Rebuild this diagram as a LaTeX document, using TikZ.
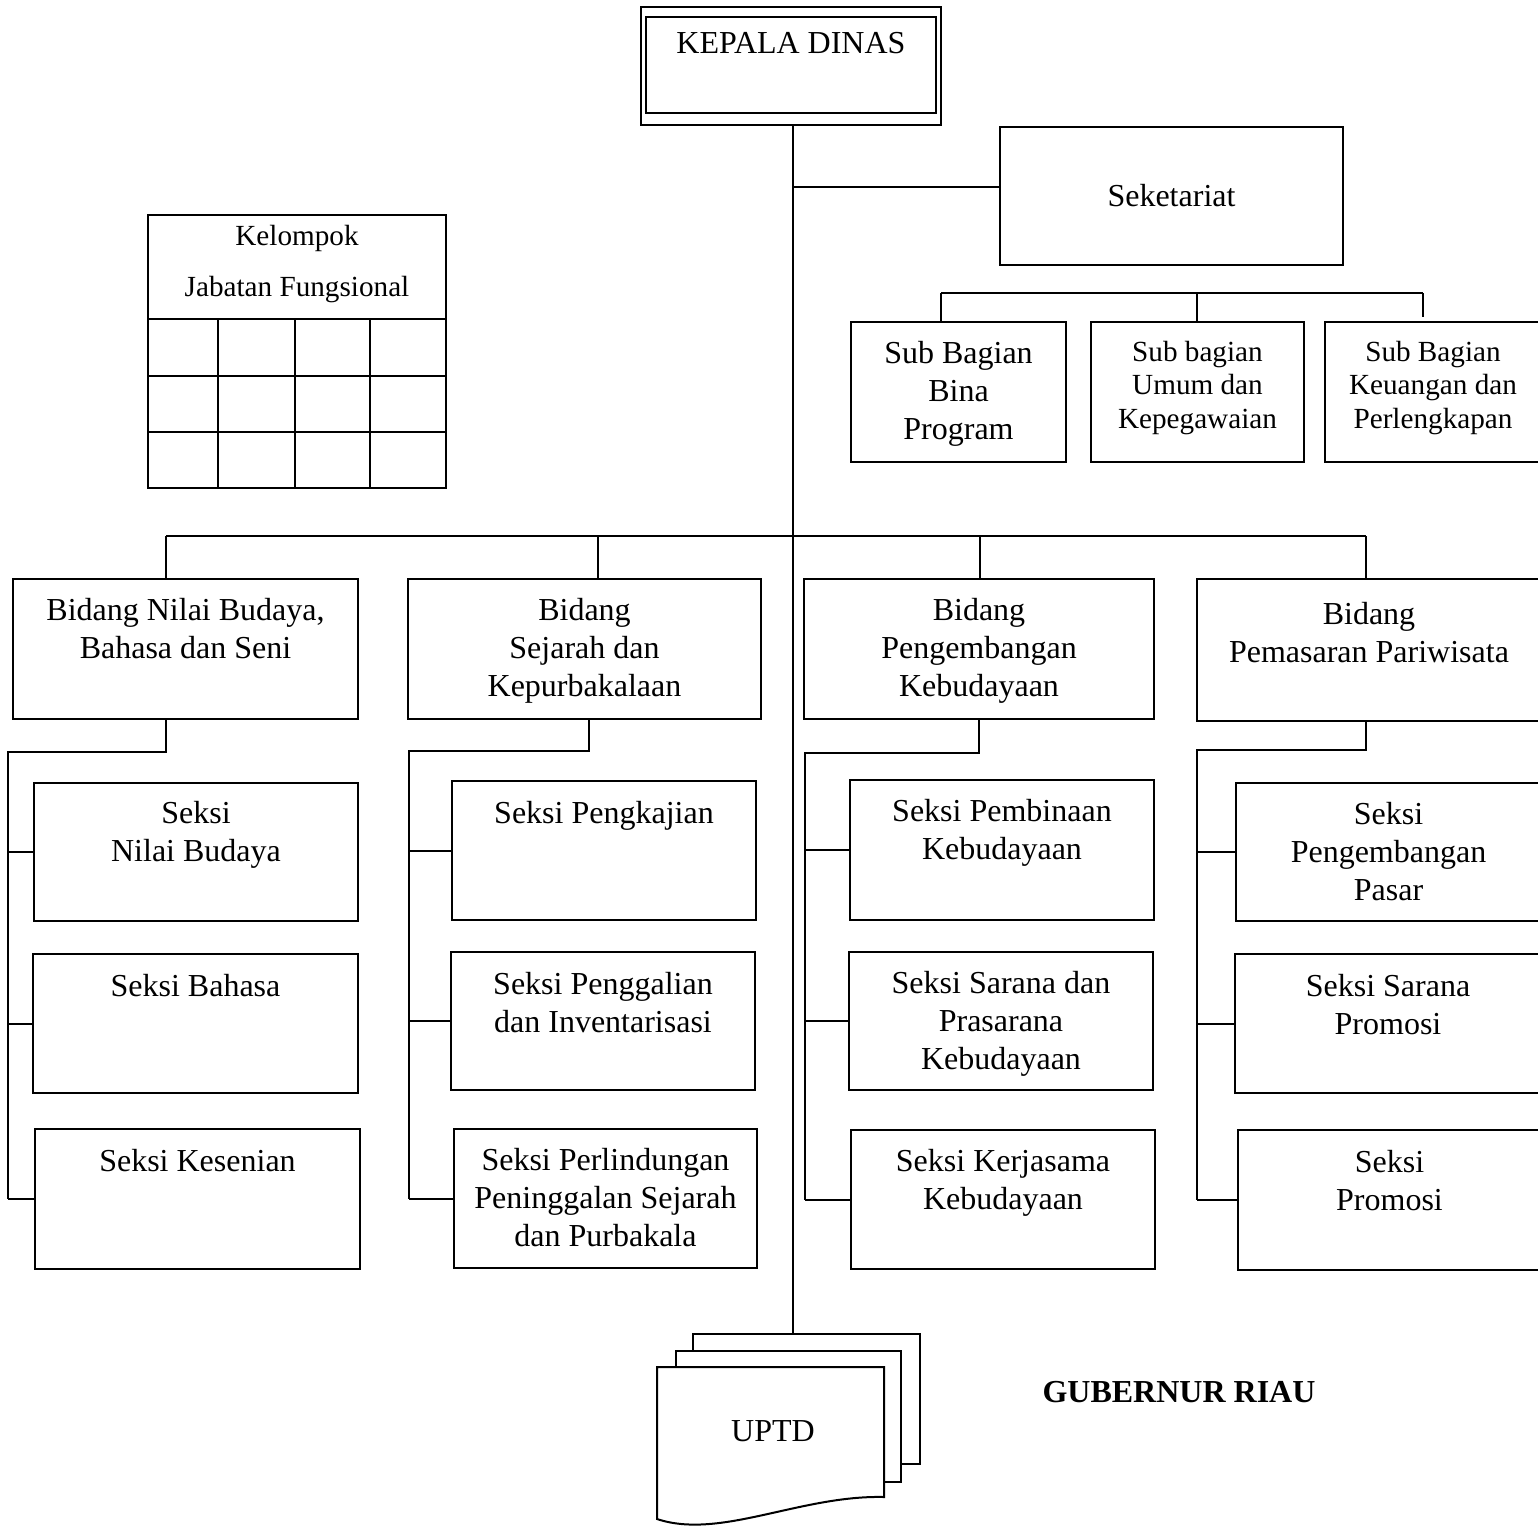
\documentclass[tikz,border=0pt]{standalone}
\usepackage{fontspec}
\setmainfont{Liberation Serif}
\usetikzlibrary{positioning,fit}

\begin{document}
\begin{tikzpicture}[x=0.5pt,y=-0.5pt,line width=1pt,
        box/.style={draw,fill=white,inner sep=0pt},
        lbl/.style={inner sep=0pt,align=center,font=\fontsize{16}{19}\selectfont},
        lblsmall/.style={inner sep=0pt,align=center,font=\fontsize{14.6}{16.8}\selectfont}]
        % Page frame
        \clip (0,0) rectangle (1538,1528);

        % Kepala dinas
        \node[box,fit={(641,7) (941,125)}] (kd) {};
        \node[box,fit={(646,17) (936,113)}] (kdin) {};
        \node[lbl,below=7.5pt of kdin.north] (kdtxt) {KEPALA DINAS};

        % Seketariat and its sub bagian
        \node[box,fit={(1000,127) (1343,265)}] (sek) {};
        \node[lbl] (sektxt) at (sek) {Seketariat};
        \node[box,fit={(851,322) (1066,462)}] (sb1) {};
        \node[box,fit={(1091,322) (1304,462)}] (sb2) {};
        \node[box,fit={(1325,322) (1541,462)}] (sb3) {};
        \node[lbl,below=9.5pt of sb1.north] (sb1txt) {Sub Bagian\\Bina\\Program};
        \node[lblsmall,below=9.5pt of sb2.north] (sb2txt) {Sub bagian\\Umum dan\\Kepegawaian};
        \node[lblsmall,below=9.5pt of sb3.north] (sb3txt) {Sub Bagian\\Keuangan dan\\Perlengkapan};

        % Kelompok jabatan fungsional
        \node[box,fit={(148,215) (446,488)}] (kjf) {};
        \node[lblsmall,below=5pt of kjf.north] (kjftxt) {Kelompok\\[8.7pt]Jabatan Fungsional};
        \foreach \y in {319,376,432}
            \draw (148,\y) -- (446,\y);
        \foreach \x in {218,295,370}
            \draw (\x,319) -- (\x,488);

        % Bidang
        \node[box,fit={(13,579) (358,719)}] (b1) {};
        \node[box,fit={(408,579) (761,719)}] (b2) {};
        \node[box,fit={(804,579) (1154,719)}] (b3) {};
        \node[box,fit={(1197,579) (1541,721)}] (b4) {};
        \node[lbl,below=9.5pt of b1.north] (b1txt) {Bidang Nilai Budaya,\\Bahasa dan Seni};
        \node[lbl,below=9.5pt of b2.north] (b2txt) {Bidang\\Sejarah dan\\Kepurbakalaan};
        \node[lbl,below=9.5pt of b3.north] (b3txt) {Bidang\\Pengembangan\\Kebudayaan};
        \node[lbl,below=11.5pt of b4.north] (b4txt) {Bidang\\Pemasaran Pariwisata};

        % Seksi
        \foreach \n/\l/\t/\r/\b in {11/34/783/358/921, 12/33/954/358/1093, 13/35/1129/360/1269,
                21/452/781/756/920, 22/451/952/755/1090, 23/454/1129/757/1268,
                31/850/780/1154/920, 32/849/952/1153/1090, 33/851/1130/1155/1269,
                41/1236/783/1541/921, 42/1235/954/1541/1093, 43/1238/1130/1541/1270}
            \node[box,fit={(\l,\t) (\r,\b)}] (s\n) {};
        \node[lbl,below=9pt of s11.north] (s11txt) {Seksi\\Nilai Budaya};
        \node[lbl,below=10pt of s12.north] (s12txt) {Seksi Bahasa};
        \node[lbl,below=10pt of s13.north] (s13txt) {Seksi Kesenian};
        \node[lbl,below=10pt of s21.north] (s21txt) {Seksi Pengkajian};
        \node[lbl,below=10pt of s22.north] (s22txt) {Seksi Penggalian\\dan Inventarisasi};
        \node[lbl,below=9.5pt of s23.north] (s23txt) {Seksi Perlindungan\\Peninggalan Sejarah\\dan Purbakala};
        \node[lbl,below=9.5pt of s31.north] (s31txt) {Seksi Pembinaan\\Kebudayaan};
        \node[lbl,below=9.5pt of s32.north] (s32txt) {Seksi Sarana dan\\Prasarana\\Kebudayaan};
        \node[lbl,below=9.5pt of s33.north] (s33txt) {Seksi Kerjasama\\Kebudayaan};
        \node[lbl,below=9.5pt of s41.north] (s41txt) {Seksi\\Pengembangan\\Pasar};
        \node[lbl,below=10pt of s42.north] (s42txt) {Seksi Sarana\\Promosi};
        \node[lbl,below=10pt of s43.north] (s43txt) {Seksi\\Promosi};

        % UPTD
        \node[box,fit={(693,1334) (920,1464)}] (uptdc) {};
        \node[box,fit={(676,1351) (901,1482)}] (uptdb) {};
        \draw[fill=white] (657,1367) -- (884,1367) -- (884,1497)
            .. controls (800,1495) and (720,1540) .. (657,1519) -- cycle;
        \node[lbl] (uptd) at (773,1431) {UPTD};

        \node[lbl,font=\fontsize{16}{19}\selectfont\bfseries] (gub) at (1179,1392) {GUBERNUR RIAU};

        % Connectors
        \coordinate (trunk) at ([xshift=1pt]kd.south);
        \draw (trunk) -- (trunk |- uptdc.north);
        \coordinate (sekin) at ([yshift=4.5pt]sek.west);
        \draw (trunk |- sekin) -- (sekin);

        \coordinate (sbL) at (941,293);
        \coordinate (sbM) at (1197,293);
        \coordinate (sbR) at (1423,293);
        \draw (sbL) -- (sbR);
        \draw (sbL) -- (sbL |- sb1.north);
        \draw (sbM) -- (sbM |- sb2.north);
        \draw (sbR) -- ++(0,24);

        \foreach \i/\bx in {1/166,2/598,3/980,4/1366}
            \coordinate (bus\i) at (\bx,536);
        \draw (bus1) -- (bus4);
        \foreach \i in {1,...,4}
            \draw (bus\i) -- (bus\i |- b\i.north);

        \foreach \i/\dx/\rx/\ry in {1/166/8/752, 2/589/409/751, 3/979/805/753, 4/1366/1197/750} {
            \coordinate (d\i) at (\dx,\ry);
            \coordinate (r\i) at (\rx,\ry);
            \draw (d\i |- b\i.south) -- (d\i) -- (r\i) -- (r\i |- s\i3.west);
            \foreach \j in {1,2,3}
                \draw (r\i |- s\i\j.west) -- (s\i\j.west);
        }
\end{tikzpicture}
\end{document}
